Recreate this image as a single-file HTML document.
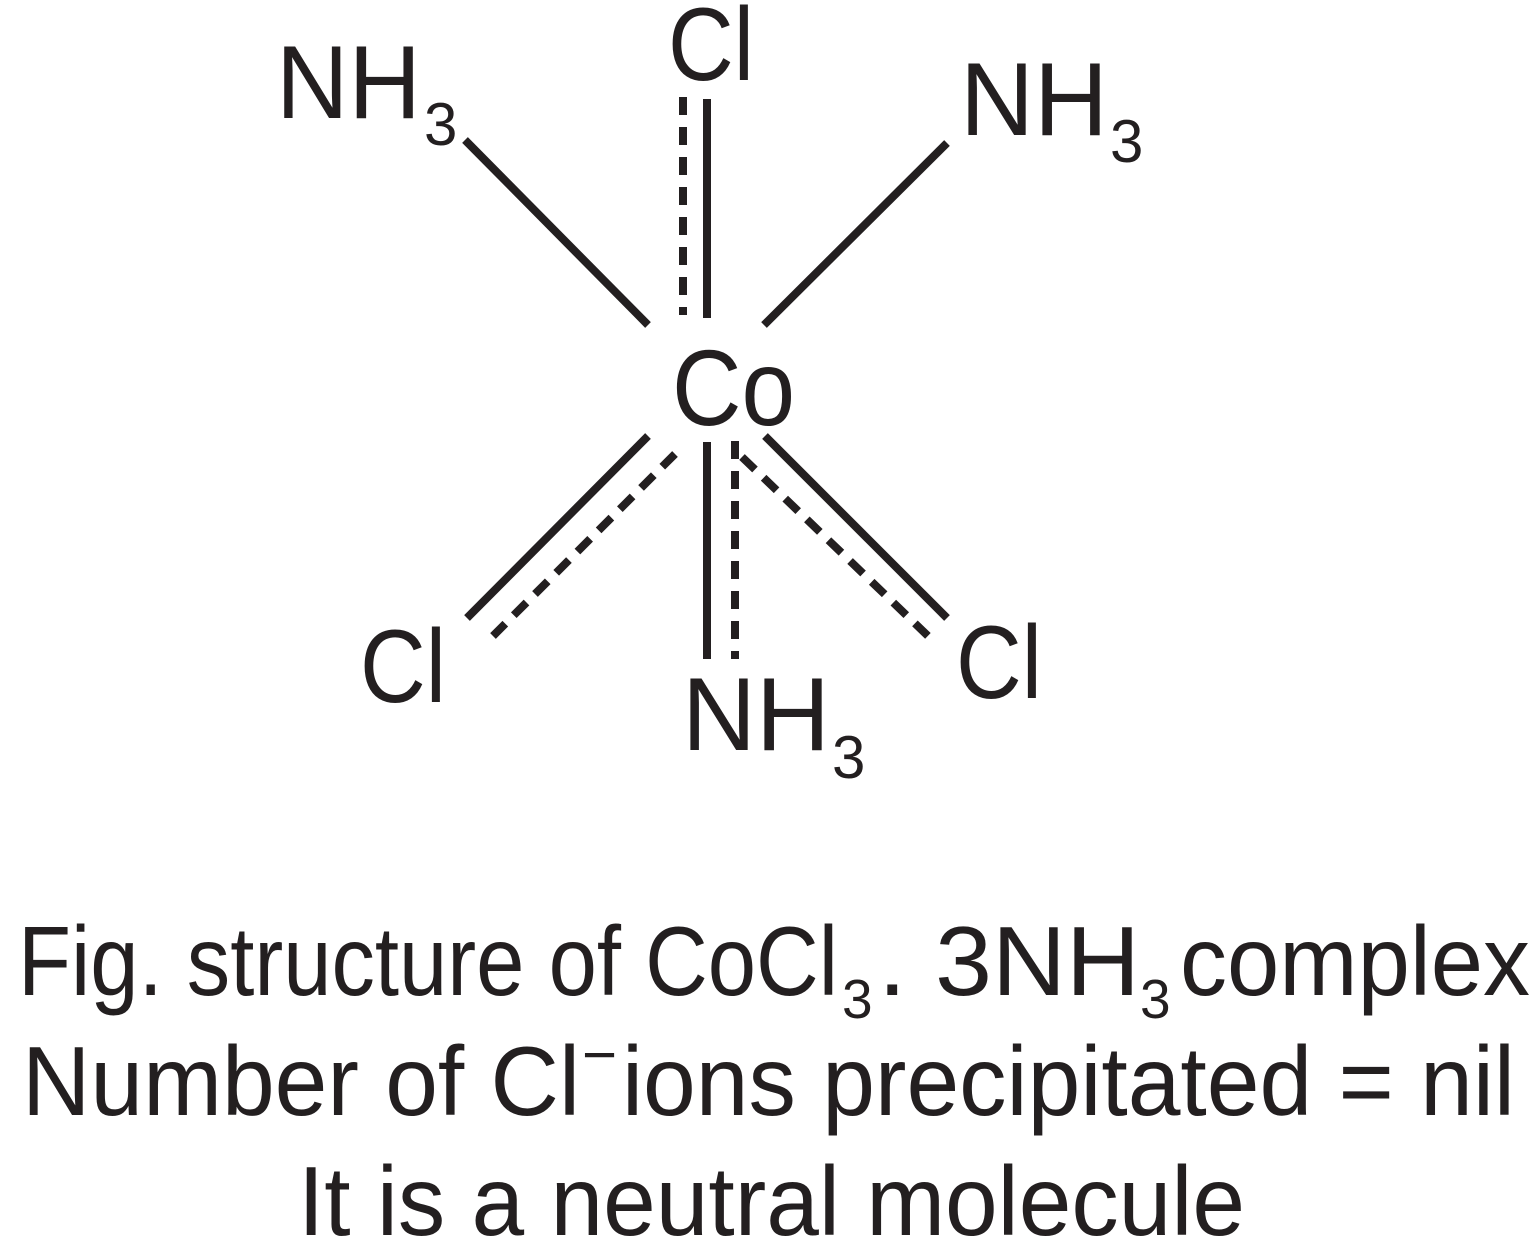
<!DOCTYPE html>
<html><head><meta charset="utf-8"><style>
html,body{margin:0;padding:0;background:#fff;}
svg{display:block;}
text{font-family:"Liberation Sans",sans-serif;fill:#231f20;}
</style></head><body>
<svg width="1536" height="1260" viewBox="0 0 1536 1260" xmlns="http://www.w3.org/2000/svg">
<g stroke="#231f20" stroke-width="8" fill="none">
<line x1="465" y1="140" x2="648" y2="325"/>
<line x1="947" y1="143" x2="764" y2="325"/>
<line x1="707" y1="99" x2="707" y2="318"/>
<line x1="683" y1="97" x2="683" y2="315" stroke-dasharray="18 12"/>
<line x1="648" y1="436" x2="467" y2="618"/>
<line x1="675" y1="454" x2="493" y2="636" stroke-dasharray="18 12"/>
<line x1="707" y1="442" x2="707" y2="659"/>
<line x1="735" y1="441" x2="735" y2="659" stroke-dasharray="18 12"/>
<line x1="765" y1="436" x2="947" y2="618"/>
<line x1="742" y1="457" x2="928" y2="636" stroke-dasharray="18 12"/>
</g>
<text x="672" y="425" font-size="108" textLength="123" lengthAdjust="spacingAndGlyphs">Co</text>
<text x="276" y="118" font-size="104" textLength="145" lengthAdjust="spacingAndGlyphs">NH</text>
<text x="424" y="145" font-size="60">3</text>
<text x="668" y="80" font-size="104" textLength="86" lengthAdjust="spacingAndGlyphs">Cl</text>
<text x="960" y="135" font-size="104" textLength="148" lengthAdjust="spacingAndGlyphs">NH</text>
<text x="1110" y="162" font-size="60">3</text>
<text x="360" y="702" font-size="104" textLength="86" lengthAdjust="spacingAndGlyphs">Cl</text>
<text x="956" y="698" font-size="104" textLength="86" lengthAdjust="spacingAndGlyphs">Cl</text>
<text x="682" y="750" font-size="104" textLength="148" lengthAdjust="spacingAndGlyphs">NH</text>
<text x="832" y="778" font-size="60">3</text>
<text x="18" y="995" font-size="98" textLength="820" lengthAdjust="spacingAndGlyphs">Fig. structure of CoCl</text>
<text x="842" y="1018" font-size="55">3</text>
<text x="878" y="995" font-size="98" textLength="262" lengthAdjust="spacingAndGlyphs">. 3NH</text>
<text x="1140" y="1018" font-size="55">3</text>
<text x="1180" y="995" font-size="98" textLength="350" lengthAdjust="spacingAndGlyphs">complex</text>
<text x="22" y="1115" font-size="98" textLength="558" lengthAdjust="spacingAndGlyphs">Number of Cl</text>
<text x="582" y="1075" font-size="60">−</text>
<text x="622" y="1115" font-size="98" textLength="893" lengthAdjust="spacingAndGlyphs">ions precipitated = nil</text>
<text x="298" y="1235" font-size="98" textLength="947" lengthAdjust="spacingAndGlyphs">It is a neutral molecule</text>
</svg>
</body></html>
